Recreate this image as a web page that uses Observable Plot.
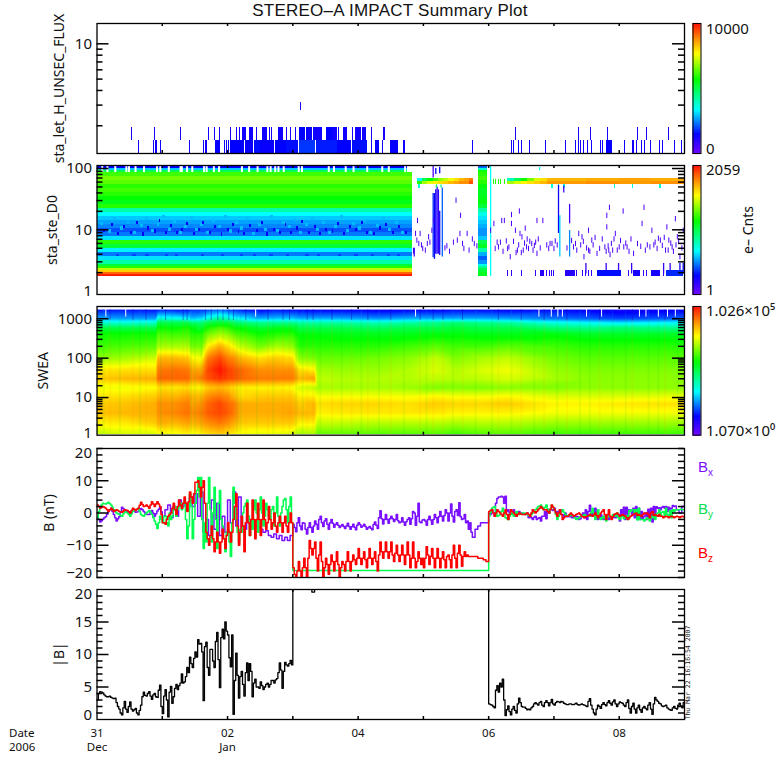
<!DOCTYPE html>
<html>
<head>
<meta charset="utf-8">
<script src="https://cdn.jsdelivr.net/npm/d3@7"></script>
<script src="https://cdn.jsdelivr.net/npm/@observablehq/plot@0.6"></script>
<style>
  html, body { margin: 0; background: #fff; }
  #page { position: relative; width: 780px; height: 780px; overflow: hidden; font-family: "Liberation Sans", sans-serif; color: #111; }
  #page svg { position: absolute; background: transparent; max-width: none; overflow: visible !important; }
  .note { position: absolute; white-space: nowrap; }
  .note sub { font-size: 10px; }
</style>
</head>
<body>
<div id="page"></div>
<script>
// days since 31 Dec on every x axis
const dayTicks = [1, 2, 3, 4, 5, 6, 7, 8];
const dateLabels = [[0, "31", "Dec"], [2, "02", "Jan"], [4, "04", ""], [6, "06", ""], [8, "08", ""]];

// colour level is the position along the colour bar, 0 to 100
const rampLevels = [0, 15, 34, 57, 77, 88, 100];
const rampColors = ["#7000ff", "#0000ff", "#00ffff", "#00ff00", "#ffff00", "#ff9000", "#ff1000"];

const logMinor = [2, 3, 4, 5, 6, 7, 8, 9, 20, 30, 40, 50, 60, 70, 80, 90, 200, 300, 400, 500, 600, 700, 800, 900];

// sta_let_H_UNSEC_FLUX: start day, end day, level
const fluxLowSpans = [[.64,.652,13],[.87,.882,13],[.895,.907,13],[.915,.927,13],[.97,.985,13],[1.41,1.435,13],[1.635,1.647,13],[1.66,1.672,13],[1.685,1.697,13],[1.81,1.89,14],[1.915,1.927,13],[1.95,1.962,13],[1.985,1.997,13],[2.02,2.032,13],[2.05,2.26,15],[2.27,2.4,14],[2.41,2.5,16],[2.51,2.72,14],[2.73,2.9,15],[2.91,3.09,16],[3.1,3.35,19],[3.36,3.68,17],[3.69,3.9,15],[3.91,4.15,16],[4.17,4.182,13],[4.21,4.222,13],[4.27,4.33,14],[4.37,4.382,13],[4.5,4.62,14],[4.66,4.672,13],[4.7,4.72,13],[5.75,5.762,13],[6.35,6.362,13],[6.38,6.392,13],[6.46,6.472,13],[6.51,6.522,13],[6.63,6.642,13],[6.87,6.882,13],[7.14,7.152,13],[7.18,7.192,13],[7.33,7.342,13],[7.38,7.392,13],[7.41,7.422,13],[7.45,7.462,13],[7.51,7.535,13],[7.58,7.592,13],[7.71,7.722,13],[7.74,7.752,13],[7.8,7.89,14],[7.92,7.932,13],[8.08,8.092,13],[8.2,8.23,13],[8.27,8.282,13],[8.34,8.352,13],[8.39,8.402,13],[8.48,8.492,13],[8.62,8.632,13],[8.66,8.672,13],[8.85,8.862,13],[8.95,8.975,13]];
const fluxHighSpans = [[.53,.542,12],[.885,.897,12],[1.28,1.292,12],[1.71,1.722,12],[1.8,1.812,12],[1.875,1.887,12],[2.045,2.057,12],[2.135,2.147,12],[2.185,2.197,12],[2.23,2.29,13],[2.335,2.4,13],[2.45,2.462,12],[2.54,2.605,13],[2.645,2.657,12],[2.68,2.692,12],[2.785,2.86,13],[2.91,2.922,12],[2.96,2.972,12],[3.04,3.052,12],[3.1,3.2,15],[3.215,3.3,14],[3.31,3.45,13],[3.515,3.6,15],[3.61,3.68,13],[3.7,3.712,12],[3.74,3.752,12],[3.78,3.83,13],[3.92,3.932,12],[3.96,3.972,12],[3.98,4.05,13],[4.06,4.135,13],[4.21,4.222,12],[4.39,4.42,12],[6.41,6.422,12],[7.38,7.392,12],[7.56,7.572,12],[7.8,7.812,12],[7.82,7.832,12],[8.28,8.292,12],[8.42,8.432,12],[8.76,8.772,12]];
const fluxPeaks = [[3.12, 2.7, 3.16], [3.94, 3.16, 3.6]];

// sta_ste_D0 energy rows and their colour levels
const steEdges = [86,74,63.7,54.8,47.2,40.6,34.9,30.1,25.9,22.2,19.2,16.5,14.2,12.2,10.5,9.04,7.78,6.69,5.75,4.95,4.26,3.67,3.16,2.72,2.52,2.34,2.17,2.01,1.87,1.73];
const steLevels = [62,66,64,60,62,60,57,55,60,42,34,30,27,25,21,24,32,60,52,33,24,32,42,52,60,72,82,92,99];
const steBlockLevels = [60,62,60,56,54,54,55,56,52,42,36,32,30,28,26,26,30,50,54,42,28,22,26,36,44,50,52,54,54];
const steTopStrip = [[108,100,15],[100,92.7,30],[92.7,86,50]];
const steGaps = [.08,.16,.28,.45,.49,.59,.72,.92,.97,1.1,1.28,1.3,1.38,1.46,1.64,1.68,1.79,1.87,2.22,2.33,2.46,2.61,2.66,2.73,2.78,2.86,3.09,3.14,3.55,3.63,3.81,3.93,4.14,4.37,4.47,4.72,4.77];
const steSpeckleDays = [.1,.22,.31,.4,.52,.6,.7,.78,.88,.95,1.05,1.13,1.22,1.3,1.37,1.48,1.55,1.62,1.73,1.8,1.9,2,2.07,2.16,2.25,2.33,2.44,2.52,2.6,2.71,2.8,2.88,2.97,3.06,3.14,3.24,3.33,3.41,3.5,3.6,3.68,3.78,3.87,3.96,4.05,4.13,4.24,4.33,4.42,4.53,4.62,4.72];
const steSpeckleEnergy = [9.5,12,8.6,11,9,13,8.4,10.5,9.4,14,8.8,11.5,9,10,12.5,8.6,9.8,13,9,11,8.4,10,12,9.2,8.6,11.6,9.6,13,8.4,10,9,12,8.8,10.5,13.5,9,11,8.6,10,9.4,12.5,8.6,11,9.8,13,9,8.5,10.5,12,9,11,8.8];
const steMottleDays = [.05,.17,.26,.36,.46,.56,.66,.74,.83,.92,1,1.09,1.17,1.26,1.34,1.43,1.51,1.59,1.68,1.77,1.86,1.95,2.03,2.12,2.2,2.29,2.38,2.48,2.56,2.66,2.75,2.84,2.93,3.02,3.1,3.19,3.28,3.37,3.46,3.55,3.64,3.73,3.82,3.91,4,4.09,4.18,4.28,4.37,4.47,4.57,4.67];
const steMottleEnergy = [12.5,9.4,15,10.5,13,8.8,11.5,15,9.5,12,16,10,13.5,8.8,11,15.5,10,12,9,14,11,16,9.4,13,10.5,15,8.6,12,10,16,9.5,13,11,14.5,9,12,15,10,13,8.8,11,16,9.5,12.5,10.5,14,9,11.5,15,10,13,8.8];
const steRowDashes = [.3,.55,.75,1.05,1.2,1.6,1.9,2.2,2.4,2.65,2.9,3.2,3.38,3.7,3.95,4.2,4.45,4.6];

// transition band near 60 eV: left edge of each piece, then levels of its upper and lower row
const bandADays = [4.91,4.99,5.07,5.15,5.23,5.31,5.39,5.47,5.55,5.63,5.71,5.76];
const bandAUpper = [34,50,57,62,68,72,76,80,84,86,90];
const bandALower = [60,70,75,78,80,82,84,86,88,88,94];
const bandBDays = [6.29,6.4,6.5,6.6,6.7,6.8,6.9,7.5,8,8.5,9];
const bandBUpper = [40,50,58,66,74,80,84,85,86,85];
const bandBLower = [70,74,78,80,82,84,87,88,87,88];
const bandSingles = [6.08,6.11,6.15,6.18,6.22,6.25];
const bandDrips = [4.93,6.97,7.07,7.15,7.92,8.2,8.62];

// vertical streaks: day, upper energy, lower energy, level
const steStreaks = [[5.15,39,3.5,18],[5.17,39,3.3,14],[5.19,45,4,12],[5.21,50,4,10],[5.23,45,4,8],[5.25,20,3.8,12],[5.29,48,3.6,22],[5.27,54,48,45],[5.2,54,48,50],
  [5.15,112,70,5],[5.19,100,80,14],[5.25,105,82,14],[4.85,5,4,8],[4.86,5,3.6,6],[6.03,112,1.73,34],[7.07,53,8.7,14],[7.09,17,3.6,30],[7.15,52,40,6],[7.24,26,12.5,6],[7.24,9.7,3.6,25],[6.78,104,92,34],
  [7.49,2.82,1.9,8],[7.8,2.82,1.9,8],[7.99,2.82,1.9,8],[8.19,2.82,1.9,8],[8.68,2.82,1.9,8],[8.78,2.82,1.9,8],[8.93,2.82,1.9,14],[8.98,2.82,1.9,14]];

// isolated counts: day, energy
const steDots = [[5.5,30],[5.57,17],[4.91,14],[4.95,8.6],[4.88,8.6],[4.9,6.7],[4.93,5.9],[4.99,4.9],[5.06,5.9],[5.08,7.6],[5.13,9.7],[5.16,14],[5.36,5.4],[5.46,6.2],[5.52,6.7],[5.56,8.6],[5.62,4.9],[5.67,8.6],[5.75,7],[5.82,5.4],[6.13,6.2],[6.08,12.5],[6.03,9.7],[6.2,14],[6.24,14],[6.35,17.5],[6.47,20],[6.35,12.5],[6.41,9.7],[6.48,8.6],[6.56,10.5],[6.51,7.6],[6.59,7],[6.18,6.2],[6.1,4.9],[6.29,4.9],[6.33,3.6],[6.44,4.6],[6.53,4.6],[6.61,4.9],[6.66,5.9],[6.72,6.2],[6.74,4.06],[6.74,14],[6.83,14],[6.89,5.6],[6.94,5.9],[7,4.9],[7.05,5.6],[7.3,5.2],[7.33,5.9],[7.38,8.6],[7.43,7.6],[7.53,9.7],[7.46,3.6],[7.53,4.6],[7.58,6.7],[7.66,4.06],[7.74,7],[7.81,11],[7.81,17],[7.85,23],[7.92,7],[7.94,8.6],[7.97,4.6],[8.07,5.2],[8.06,20],[8.12,5.2],[8.22,4.06],[8.38,23],[8.35,12.5],[8.43,5.6],[8.5,9.7],[8.53,5.6],[8.58,4.9],[8.63,6.7],[8.71,4.6],[8.73,11],[8.76,6.7],[8.81,5.2],[8.86,15],[8.89,7.6],[8.93,3.6],[8.98,9.7],[7.84,4.6],[7.86,3.9],
  [4.97,5.6],[5.03,4.6],[5.1,6.2],[5.33,5],[5.4,4.4],[5.6,5.9],[5.7,4.6],[5.78,5.9],[6.15,5.2],[6.22,4.4],[6.27,6.5],[6.31,5.2],[6.38,6.4],[6.42,4.2],[6.46,5.6],[6.5,4.2],[6.55,6],[6.58,5.2],[6.63,6.4],[6.68,4.6],[6.7,5.5],[6.76,7],[6.79,5],[6.92,4.9],[6.97,5.9],[7.02,6.5],[7.2,5],[7.27,6.6],[7.35,4.6],[7.41,5.6],[7.45,6.4],[7.5,5],[7.55,4.4],[7.6,5.6],[7.63,7.4],[7.7,4.9],[7.78,5.2],[7.8,4.4],[7.83,5.4],[7.88,5.9],[7.9,4.6],[8,5.2],[8.02,6.6],[8.1,6],[8.15,4.4],[8.18,7],[8.28,5.9],[8.33,5.3],[8.4,4.6],[8.47,5.2],[8.55,6.2],[8.6,7.2],[8.66,5.5],[8.69,7.4],[8.75,4.6],[8.79,6],[8.83,4.4],[8.87,5.6],[8.91,6.5],[8.96,5]];

// bottom row of the quiet interval
const steFloorSpans = [[6.29,6.302,8],[6.35,6.362,8],[6.5,6.512,8],[6.68,6.692,8],[6.72,6.732,8],[6.79,6.85,10],[6.89,6.902,8],[6.93,6.942,8],[6.97,6.982,8],[7,7.012,8],[7.18,7.33,10],[7.35,7.362,8],[7.4,7.412,8],[7.44,7.452,8],[7.48,7.492,8],[7.53,7.542,8],[7.58,7.592,8],[7.63,7.642,8],[7.67,8.04,16],[8.09,8.102,8],[8.14,8.152,8],[8.22,8.32,12],[8.37,8.382,8],[8.42,8.432,8],[8.49,8.63,12],[8.68,8.692,8],[8.73,8.99,18]];

// SWEA: energy rows, time columns, one list of levels per column
const sweaEnergy = [1710,1000,800,600,400,200,100,50,30,18,11,7,4,2.2,1.2];
const sweaDays = [0,.45,.9,.93,1.2,1.4,1.45,1.6,1.7,1.88,2,2.1,2.2,2.5,2.75,3,3.1,3.33,3.37,3.7,4.3,4.8,5.2,5.5,5.9,6.3,7,7.5,8,9];
const sweaColumns = [
  [16,28,38,50,58,62,68,79,82,76,79,82,83,78,72],
  [16,27,37,50,58,63,70,80,84,76,80,83,84,79,74],
  [16,27,38,50,58,64,73,80,85,77,82,85,85,82,74],
  [17,38,50,57,63,70,84,90,92,80,84,88,88,85,76],
  [16,36,50,56,62,70,84,91,92,79,84,88,89,84,76],
  [16,34,50,58,62,70,82,90,92,80,86,90,91,86,78],
  [18,30,46,56,60,66,78,86,88,78,84,86,88,84,76],
  [18,32,46,52,60,66,76,86,90,78,84,88,90,86,78],
  [20,38,50,58,66,78,90,95,94,82,88,92,93,88,80],
  [22,44,52,62,70,85,95,100,97,84,90,95,95,90,82],
  [20,40,52,60,68,80,90,96,95,82,88,92,93,88,80],
  [18,36,48,56,64,76,88,94,94,80,84,90,90,85,78],
  [16,34,46,56,62,72,84,92,92,78,80,85,85,82,76],
  [14,28,44,52,58,66,80,88,90,78,82,85,85,82,75],
  [16,30,44,54,60,70,82,88,90,78,82,85,85,82,75],
  [15,30,44,54,60,68,80,88,90,77,82,85,86,82,74],
  [14,28,42,50,56,60,68,80,84,74,78,82,84,78,70],
  [14,28,42,50,56,60,66,78,86,72,78,84,84,78,70],
  [14,28,42,50,56,60,65,70,72,70,76,80,78,72,65],
  [14,28,42,50,55,60,65,69,71,70,76,81,79,72,65],
  [13,26,40,48,55,60,66,69,71,70,76,81,79,71,64],
  [14,28,42,50,55,62,68,71,71,69,76,80,79,71,64],
  [14,28,44,50,56,64,72,74,72,67,77,82,79,71,64],
  [15,28,46,52,56,62,67,71,71,67,76,81,78,70,62],
  [15,28,44,50,55,62,70,74,72,67,76,81,78,71,64],
  [14,27,42,50,55,64,72,76,74,68,77,82,78,71,64],
  [15,24,36,46,56,62,66,69,70,67,74,78,76,69,62],
  [14,22,34,44,54,60,64,67,68,68,74,78,76,69,62],
  [12,20,32,46,54,60,64,67,68,68,74,79,76,69,62],
  [14,22,34,44,54,60,64,67,68,68,75,80,76,69,62]
];
const sweaGaps = [.135,.44,2.43,4.88,6.77,6.96,7.06,7.13,7.5,7.73,8.31,8.41,8.6,8.74,8.86];
const sweaWarm = [.2,.55,.75,1.05,1.32,1.38,1.66,1.75,1.85,1.93,2.02,2.09,2.28,2.62,2.85,2.95,3.22,3.31,3.6,3.9,4.15,4.5,4.95,5.15,5.3,5.6,6.15,6.5,6.85,7.2,7.7,8.2,8.7];
const sweaCool = [.1,.35,.66,.98,1.15,1.44,1.5,1.6,2.14,2.2,2.45,2.7,3.05,3.15,3.42,3.75,4.05,4.32,4.7,5.05,5.45,5.8,6.05,6.35,6.7,7.05,7.4,7.55,7.9,8.1,8.45,8.6,8.9];

// magnetic field, one value per hour
const bx = [-1.5,-2.8,-1.9,-1.2,.5,1.5,-.5,-2.5,-1.2,1.8,.8,.5,-.3,1,.2,.5,1.4,.5,-.5,-.5,.8,-1,.6,1.8,
  -1,1,2.5,-1.5,2,-1,4,2,3,1,5,2,6,-1,6.5,-6,-2,-7,4,-5,3,-7,-1,-6,
  4,-3,6.5,-4,5,-5,-5,-1,-3.5,-2.5,-4,-4.5,-5,-6,-5.5,-7,-7.5,-6.5,-8,-7,-8.5,-7.5,-8.5,-7,
  -3.5,-5.8,-1.5,-5.2,-3.2,-6.5,-3,-6,-2.5,-5,-1,-4.2,-1.8,-5,-2,-4.4,-3,-4.5,-3.6,-4.8,-3.2,-5,-3.5,-5.2,
  -3,-4.4,-3.5,-5,-4.2,-5.2,-2.8,-4.8,.7,-3.4,-.5,-3.2,-1,-2.6,-.5,-3,-1.5,-3.8,-2,-3.5,.5,-3.8,3,-3,
  -2,-3.8,-1,-3.5,-.5,-3,.5,-2.5,1,-2.5,2.8,-2.8,1,3.2,-2,-.5,-2.5,-3,-7.5,-5,-4,-3,-3,-3,
  0,1,-1,4.5,5,5,5.2,1,0,1,-1,.5,
  0,-.5,0,-1,-2,-1,-1.6,-2.5,-1,-1.8,0,1,1.5,.5,1,-.5,0,-1,-1,-1.5,-1,-2,-1,-1.5,-2,2.4,0,1.5,-2,-.5,-2,-1,-2,-1.5,-.5,-1,-2.5,-1,-2,-1,.5,1.5,2,1.5,.5,-1,-2,-1.5,-2.8,-1,1.5,1,2,2,1.8,1.5,2,1,0,2,2.5];
const by = [-1.5,2,3,2.8,3.3,2.5,1,0,-.5,-1,.5,0,-1,.5,1,1.5,-.5,-1,0,.8,-.5,-2.5,-4.8,-1,
  -3,-1,-4,-2,1,-1,2,1,4,-8,6,-8,3,11,11,-11,-9,11,-9,8,-11,7,-4,-12,
  -5,-13.5,8,-2,-9,-6,2,4,-7,-5,4,-6,5,-4,3,-1,1,-4,5,-4,2,4.5,-3,5,
  -17.8,-17.8,-17.8,-17.8,-17.8,-17.8,-17.8,-17.8,-17.8,-17.8,-17.8,-17.8,-17.8,-17.8,-17.8,-17.8,-17.8,-17.8,-17.8,-17.8,-17.8,-17.8,-17.8,-17.8,
  -17.8,-17.8,-17.8,-17.8,-17.8,-17.8,-17.8,-17.8,-17.8,-17.8,-17.8,-17.8,-17.8,-17.8,-17.8,-17.8,-17.8,-17.8,-17.8,-17.8,-17.8,-17.8,-17.8,-17.8,
  -17.8,-17.8,-17.8,-17.8,-17.8,-17.8,-17.8,-17.8,-17.8,-17.8,-17.8,-17.8,-17.8,-17.8,-17.8,-17.8,-17.8,-17.8,-17.8,-17.8,-17.8,-17.8,-17.8,-17.8,
  -1,1.5,2,-1,-.5,1.5,-1.5,-2,0,-1,.5,-.5,0,0,-.5,-1,0,1,2,2.5,1,2.5,0,2.4,1,-2,0,1,-.5,-1,-.5,-1,-2,-1.5,-1,-.5,-1,-1,1.5,-2,1,-2,-1,-2.5,-1,-1.5,-1,0,-2,-1,-1.5,-2,.5,1,1,1.5,-2,-2.5,-1.5,-2.5,-1.5,-2,0,-1,.5,1.5,-1,-1.5,.5,1,1,1,1];
const bz = [2.5,1.5,2,1.5,.5,1.5,.5,1,.5,.2,1,.8,0,1.5,.8,1.5,3.3,2,2.5,1.5,3.5,2,3.5,2,
  -3,-3.5,-1,0,3,-.5,4,1.5,5,.5,6.5,3,9.5,10,5,10,-6,-10,-4,-12,-6,-12.5,-5,-11,
  -3,-9,-2,6,-10,-1,-12,3,-7,4,-8,3,-7,4,-5,2,-5,0,-6,-1,-6,-1,-6,0,
  -17,-20,-15,-21,-14,-20,-8.5,-13,-9,-18,-9,-20,-14,-19,-13,-18,-12,-20,-15,-18,-12,-18,-13,-16,
  -11,-16,-12,-17,-11,-16,-12,-18,-9,-14,-9,-14,-9,-15,-10,-15,-10,-16,-9,-17,-9,-17,-12,-16,
  -17,-10.5,-16,-11,-17,-11,-17,-12,-17,-13,-17,-10,-17,-10,-16.5,-12,-13,-13.5,-13.5,-13.5,-14,-14,-14.5,-15,
  .5,1,-1,1,0,-1,1,-2,1,0,-1,0,-.5,-.5,0,-1,1,0,1,2,1,1,0,2.5,1,-1,1,-2,-1,-1,0,-1,-.5,0,-1,-1.5,-1,-.5,-1,0,-1.5,0,1,-2,1,-2,-.5,0,-1,-.5,-1,-2,-1,-.5,0,-.5,-1,0,0,-1.5,.5,-.5,-1,-1,-1.5,-1,-1.5,-1,-1.5,-1,-1.5,-1,-1.5];
const bMag = [3,4.3,4.1,3.6,3.5,3.4,3.2,2.6,1.6,.7,2.8,1.1,2.7,1.3,1.7,.7,2.2,4.2,3.6,4.3,3.1,4,3.4,5.3,
  .9,4.6,.4,5.1,3.5,5.4,5.2,7,5.8,8,9.6,8,10.4,12.3,11.7,2.9,11.9,6.8,10.8,8,13.4,4.9,13.9,15,
  13,8.1,.8,10.2,3.3,7.4,3.6,8.7,8.6,3.5,6.2,5,5.8,4.6,5.4,5,6,5.6,6.3,8.7,4.8,8.8,8.2,9.1,
  25,25,25,25,25,20.3,20.5,19.6,20.2,25,25,25,25,25,25,25,25,25,25,25,25,25,25,25,
  25,25,25,25,20.1,25,25,25,25,25,25,25,25,25,25,25,25,25,25,25,25,25,25,25,
  25,25,25,25,25,25,25,25,25,25,25,25,25,25,25,25,25,25,25,25,25,25,25,25,
  2.4,2.2,1.8,5.2,5.6,6.2,.6,2.1,.7,2,1,3.3,2,1.9,1.5,1.5,2,2.6,2.2,2.8,2,2.9,2.1,3.1,
  2.2,2.8,2.6,2.7,2.4,2.3,2.4,2.3,2.5,2.2,2.4,2.2,2,3.2,1.6,.7,2.2,1.7,2.6,2.1,2.9,2.2,3,2,
  2.7,2.5,2,3,1,2.5,1,2.2,1.1,2,1.5,2.6,.8,3.4,2.8,2.4,2,2.2,1.6,1.4,2,1.6,2.5,1.8,3];

// half-hour samples between the hourly ones, each run from its start day
const bxFine = [
  {start: 0, values: [-2,-2.4,-1.5,-.4,1,.5,-1.5,-1.8,.3,1.3,.6,.1,.3,.6,.3,1,1,0,-.5,.2,-.1,-.2,1.2,.4]},
  {start: 3, values: [-4.5,-3,-4,-3,-5,-4.5,-4.5,-4,-3.5,-2,-3,-2.5,-3.5,-3,-3.2,-3.6,-3.8,-4,-4.2,-4,-4.2,-4.3,-4.4,-3.8,-3.6,-4,-4.2,-4.6,-4.7,-3.6,-3.8,-1.5,-1.8,-2,-2,-1.8,-1.8,-2,-2.4,-2.8,-2.8,-2.7,-1.5,-1.8,0,-1,-2.8,-2.2,-2.5,-2,-2.2,-2,-1.5,-1.2,-1,-.8,0,0,-1,.5,-.8,-1.2,-1.8,-3,-5,-6]},
  {start: 6, values: [-.5,0,3,5,5.2,3,.5,0,0,0,.2,0,-.3,-.5,-1.5,-1.5,-1.3,-2,-1.4,-1,.5,1.2,1,.8,.2,.2,-.5,-1,-1.2,-1.2,-1.5,-1.5,-1.2,-1.8,0,1,.5,-1,-1,-1.5,-1.5,-1,-1,-.8,-1.5,-1.5,-1.5,-.5,1,1.8,1.8,1,-.5,-1.5,-1.8,-2,-1.8,0,1.2,1.5,2,1.9,1.6,1.8,1.5,.5,1,2.3,2.2]}
];
const byFine = [
  {start: 0, values: [.5,2.5,2.9,3,2.9,1.8,.5,-.2,-.8,-.2,.2,-.5,-.2,.8,1.2,.5,-.8,-.5,.4,.2,-1.5,-3.5,-3,-2]},
  {start: 1, values: [-1,-3,0,-1,2,1,3,3,-2,-4,2,-2,7,5,-2,-3,3,1,0,-2,3,-2,-8,-6,-9,-3,3,-6,-5,0,3,-1,-2,1,0,1,0,-1,1,-2,2,0,-1,0,4,1,2,-3]},
  {start: 6, values: [.2,1.8,.5,-.8,.5,0,-1.8,-1,-.5,-.2,0,-.2,0,-.2,-.8,-.5,.5,1.5,2.2,1.8,1.8,1.2,1.2,1.7,-.5,-1,.5,.2,-.8,-.8,-.8,-1.5,-1.8,-1.2,-.8,-.8,-1,.2,-.2,-.5,-1.5,-1.5,-1.8,-1.2,-1.2,-.5,-1,-1.5,-1.2,-1.8,-.8,.8,1,-.2,-2.2,-2,-2,-2,-1.8,-1,-.5,-.2,1,.2,-1.2,-.5,.8,1,1,1,1.2,1]}
];
const bzFine = [
  {start: 0, values: [2,1.8,1.8,1,1,1,.8,.8,.4,.6,.9,.4,.8,1.2,1.2,2.4,2.6,2.2,2,2.5,2.8,2.8,2.8,-.5]},
  {start: 1, values: [-3,-2,-.5,1.5,1,2,2.5,3,3,3.5,5,6,9.5,8,8,3,-8,-7,-8,-9,-9,-9,-8,-7,-6,-6,2,-4,-6,-4,-3,-3,-2,-2,-2,-2,-2,-2,-3,-2,-3,-4,-3,-3,-3,-4,-3,-3,
    -19,-18,-18,-17,-17,-14,-11,-11,-14,-13,-15,-17,-16,-16,-15,-15,-16,-17,-16,-15,-15,-15,-14.5,-14,-14,-14,-14.5,-14,-14,-14,-15,-13,-12,-12,-12,-12,-13,-12.5,-13,-13,-13,-13,-13,-14,-14,-15,-14,-14,-14,-13,-13.5,-14,-14,-14,-14,-14.5,-13.5,-14.5,-13,-14,-12.5,-13,-13.5,-13.5,-13.5,-13.5]},
  {start: 6, values: [.8,0,0,.5,-.5,0,-.5,-.5,.5,-.5,-.5,-.2,-.5,-.2,-.5,0,.5,.5,1.5,1.5,1,.5,1.2,1.8,0,0,-.5,-1.5,-1,-.5,-.5,-.8,-.2,-.5,-1.2,-1.2,-.8,-.8,-.5,-.8,-.8,.5,-.5,-.5,-1,-1.2,-.2,-.5,-.8,-.8,-1.5,-1.5,-.8,-.2,-.8,-.8,-.5,-.2,-.5,0,-.8,-.8,-.5,-1,-1.2,-1.2,-1.2,-1.2,-1.2,-1.2,-1.2,-1.2]}
];
const bMagFine = [
  {start: 0, values: [4,4.2,3.8,3.5,3.6,3.3,3.3,2,1,1.8,1.6,2,1.6,1.5,1,1.4,3.5,3.7,4,3.6,3.8,3.5,4.5,2]},
  {start: 1, values: [3.6,3,4.2,2.5,4.8,4.6,5.6,5.6,6.6,7.2,8.6,9.4,9.6,11.6,10.4,11.2,8,10.8,9,12,9.2,12.6,12.4,13.6,9.5,13,6,6.8,6.6,5.4,7.2,6,7.4,5.6,5,4.8,5.2,5,5.6,5.4,6,6.1,7.2,7.6,7.4,8.4,8.6,8.4]},
  {start: 6, values: [2.3,2,4.5,4.2,5,3,1.5,1.2,1.6,1.4,2.4,2.6,1.9,1.7,1.6,1.8,2.4,2.4,2.6,2.2,2.6,2.6,2.6,2.4,2.6,2.7,2.8,2.5,2.3,2.4,2.3,2.4,2.3,2.3,2.3,2.1,2.8,2.2,1,1.6,2,2.3,2.3,2.6,2.5,2.7,2.4,2.4,2.6,2.2,2.6,1.7,2,1.6,1.8,1.5,1.8,1.7,2.2,1.6,2.4,3,2.5,2.1,2.1,1.8,1.5,1.8,1.7,2.2,2.1,2.6]}
];

const page = document.getElementById("page");
const levelScale = {type: "linear", domain: rampLevels, range: rampColors, clamp: true};
const sharp = {shapeRendering: "crispEdges"};

function addNote(html, left, top, css) {
  const note = document.createElement("div");
  note.className = "note";
  note.innerHTML = html;
  note.style.cssText = `left:${left}px;top:${top}px;${css || ""}`;
  page.append(note);
}

// ticks point into the frame on all four sides, as in the original
// bottomEnd and topEnd: [frame edge, tip of the day tick] in y units
function frameMarks(major, minor, bottomEnd, topEnd) {
  const tick = (values, days) => [
    Plot.ruleY(values, {y: d => d, x1: () => 0, x2: () => days, stroke: "#000", strokeWidth: 1.5}),
    Plot.ruleY(values, {y: d => d, x1: () => 9 - days, x2: () => 9, stroke: "#000", strokeWidth: 1.5})
  ];
  const dayTick = ([edge, tip]) => Plot.ruleX(dayTicks, {x: d => d, y1: () => edge, y2: () => tip, stroke: "#000", strokeWidth: 1.5});
  return [
    ...tick(major, 0.184),
    ...tick(minor, 0.092),
    dayTick(bottomEnd),
    dayTick(topEnd),
    Plot.frame({stroke: "#000", strokeWidth: 1.3})
  ];
}

function yLabels(labels) {
  return Plot.text(labels, {x: () => 0, y: d => d[0], text: d => d[1], dx: -5, textAnchor: "end", fontSize: 15, fill: "#111"});
}

function yTitle(title, dx) {
  return Plot.text([title], {frameAnchor: "left", textAnchor: "middle", dx, rotate: -90, fontSize: 14, fill: "#111"});
}

function addPanel(top, height, y, marks, extraBottom = 0) {
  const chart = Plot.plot({
    width: 780,
    height: height + 20 + extraBottom,
    marginLeft: 96.5,
    marginRight: 96,
    marginTop: 10,
    marginBottom: 10 + extraBottom,
    x: {domain: [0, 9], axis: null},
    y: {...y, axis: null},
    color: levelScale,
    marks
  });
  chart.style.top = `${top - 10}px`;
  chart.style.left = "0px";
  page.append(chart);
}

function addColorBar(top, height, labels, title) {
  const bar = Plot.plot({
    width: 88,
    height: height + 20,
    marginLeft: 0.5,
    marginRight: 79.5,
    marginTop: 10,
    marginBottom: 10,
    x: {domain: [0, 1], axis: null},
    y: {domain: [0, 100], axis: null},
    color: levelScale,
    marks: [
      Plot.ruleY(d3.range(0, 100.5, 0.5), {y: d => d, stroke: d => d, strokeWidth: 1.2}),
      Plot.frame({stroke: "#000"}),
      Plot.text(labels, {x: () => 1, y: d => d[0], text: d => d[1], dx: 5, textAnchor: "start", fontSize: 15, fill: "#111"}),
      title ? Plot.text([title], {frameAnchor: "left", textAnchor: "middle", dx: 56, rotate: -90, fontSize: 14, fill: "#111"}) : null
    ]
  });
  bar.style.top = `${top - 10}px`;
  bar.style.left = "692px";
  page.append(bar);
}

addNote("STEREO&#8211;A IMPACT Summary Plot", 390, 1, "transform:translateX(-50%);font-size:17px;letter-spacing:.25px;");

// flux
const fluxRect = (spans, lo, hi) => Plot.rect(spans, {x1: d => d[0], x2: d => d[1], y1: () => lo, y2: () => hi, fill: d => d[2], ...sharp});
addPanel(23, 130, {type: "log", domain: [1.16, 14.9]}, [
  fluxRect(fluxLowSpans, 1.16, 1.5),
  fluxRect(fluxHighSpans, 1.5, 1.94),
  Plot.rect(fluxPeaks, {x1: d => d[0], x2: d => d[0] + 0.012, y1: d => d[1], y2: d => d[2], fill: () => 12, ...sharp}),
  ...frameMarks([10], [2, 3, 4, 5, 6, 7, 8, 9], [1.16, 1.23], [14.9, 14.05]),
  yLabels([[10, "10"]]),
  yTitle("sta_let_H_UNSEC_FLUX", -37)
]);
addColorBar(23, 130, [[96, "10000"], [3, "0"]]);

// ste
const steRows = steLevels.map((level, i) => ({hi: steEdges[i], lo: steEdges[i + 1], level, block: steBlockLevels[i]}));
const bandPieces = (days, levels, hi, lo) => levels.map((level, i) => ({x1: days[i], x2: days[i + 1], hi, lo, level}));
const spotRect = (days, energies, width, level) => Plot.rect(days.map((d, i) => [d, energies[i]]), {x1: d => d[0], x2: d => d[0] + width, y1: d => d[1] * 0.94, y2: d => d[1] * 1.06, fill: () => level, ...sharp});
addPanel(165, 129, {type: "log", domain: [0.88, 112]}, [
  Plot.rect(steTopStrip, {x1: () => 0, x2: () => 4.76, y1: d => d[0], y2: d => d[1], fill: d => d[2], ...sharp}),
  Plot.ruleX(steGaps, {x: d => d, y1: () => 86, y2: () => 110, stroke: "#fff", strokeWidth: 2}),
  Plot.rect(steRows, {x1: () => 0, x2: () => 4.83, y1: "lo", y2: "hi", fill: "level", ...sharp}),
  spotRect(steMottleDays, steMottleEnergy, 0.045, 29),
  spotRect(steSpeckleDays, steSpeckleEnergy, 0.03, 15),
  Plot.rect(steRowDashes, {x1: d => d, x2: d => d + 0.05, y1: () => 3.67, y2: () => 3.95, fill: () => 20, ...sharp}),
  Plot.rect(steRows, {x1: () => 5.84, x2: () => 5.98, y1: "lo", y2: "hi", fill: "block", ...sharp}),
  Plot.rect(steTopStrip, {x1: () => 5.84, x2: () => 5.98, y1: d => d[0], y2: d => d[1], fill: d => d[2] + 8, ...sharp}),
  Plot.rect(bandPieces(bandADays, bandAUpper, 68, 61), {x1: "x1", x2: "x2", y1: "lo", y2: "hi", fill: "level", ...sharp}),
  Plot.rect(bandPieces(bandADays, bandALower, 61, 54.8), {x1: "x1", x2: "x2", y1: "lo", y2: "hi", fill: "level", ...sharp}),
  Plot.rect(bandPieces(bandBDays, bandBUpper, 68, 61), {x1: "x1", x2: "x2", y1: "lo", y2: "hi", fill: "level", ...sharp}),
  Plot.rect(bandPieces(bandBDays, bandBLower, 61, 54.8), {x1: "x1", x2: "x2", y1: "lo", y2: "hi", fill: "level", ...sharp}),
  Plot.rect(bandSingles, {x1: d => d, x2: d => d + 0.012, y1: () => 54.8, y2: () => 66, fill: () => 60, ...sharp}),
  Plot.rect(bandDrips, {x1: d => d, x2: d => d + 0.02, y1: () => 47, y2: () => 54.8, fill: () => 38, ...sharp}),
  Plot.ruleX(steStreaks, {x: d => d[0], y1: d => d[1], y2: d => d[2], stroke: d => d[3], strokeWidth: 1.3}),
  Plot.ruleX(steDots, {x: d => d[0], y1: d => d[1] * 0.9, y2: d => d[1] * 1.1, stroke: () => 5, strokeWidth: 1}),
  Plot.rect(steFloorSpans, {x1: d => d[0], x2: d => d[1], y1: () => 1.73, y2: () => 2.17, fill: d => d[2], ...sharp}),
  ...frameMarks([10, 100], [2, 3, 4, 5, 6, 7, 8, 9, 20, 30, 40, 50, 60, 70, 80, 90], [0.88, 0.986], [112, 100]),
  yLabels([[100, "100"], [10, "10"], [1, "1"]]),
  yTitle("sta_ste_D0", -44)
]);
addColorBar(165, 129, [[96, "2059"], [3, "1"]], "e\u2013 Cnts");

// swea
const sweaCells = sweaDays.flatMap((day, c) => sweaEnergy.map((energy, r) => ({day, energy, level: sweaColumns[c][r]})));
addPanel(306, 128.7, {type: "log", domain: [1.11, 2045]}, [
  Plot.raster(sweaCells, {x: "day", y: "energy", fill: "level", interpolate: "barycentric", x1: 0, x2: 9, y1: 1.18, y2: 1710}),
  Plot.ruleX(sweaWarm, {x: d => d, y1: () => 1.18, y2: () => 1000, stroke: "#ff8000", strokeOpacity: 0.08, strokeWidth: 2}),
  Plot.ruleX(sweaCool, {x: d => d, y1: () => 1.18, y2: () => 1000, stroke: "#00b000", strokeOpacity: 0.08, strokeWidth: 2}),
  Plot.ruleX(sweaWarm, {x: d => d, y1: () => 900, y2: () => 1710, stroke: "#0000c0", strokeOpacity: 0.4}),
  Plot.ruleX(sweaCool, {x: d => d, y1: () => 1000, y2: () => 1710, stroke: "#0080ff", strokeOpacity: 0.3}),
  Plot.ruleX(sweaGaps, {x: d => d, y1: () => 1100, y2: () => 1710, stroke: "#fff", strokeWidth: 1}),
  ...frameMarks([10, 100, 1000], logMinor, [1.11, 1.32], [2045, 1718]),
  yLabels([[1000, "1000"], [100, "100"], [10, "10"], [1.22, "1"]]),
  yTitle("SWEA", -54)
]);
addColorBar(306, 128.7, [[96, "1.026\u00d710\u2075"], [3, "1.070\u00d710\u2070"]]);

// hourly values merged with the half-hour runs, held flat until the next sample
function fieldTrace(hourly, fine) {
  const points = hourly.map((value, i) => [i / 24, value]);
  fine.forEach(run => run.values.forEach((value, i) => points.push([run.start + (i + 0.5) / 24, value])));
  return points.sort((a, b) => a[0] - b[0]);
}
const fieldLine = (points, stroke, strokeWidth = 1.5) => Plot.line(points, {x: d => d[0], y: d => d[1], stroke, strokeWidth, curve: "step-after", clip: true});

// B components
addPanel(448, 129, {domain: [-20, 20]}, [
  fieldLine(fieldTrace(bx, bxFine), "#7a10ff"),
  fieldLine(fieldTrace(by, byFine), "#00ff50"),
  fieldLine(fieldTrace(bz, bzFine), "#ff0000"),
  ...frameMarks([-10, 0, 10], [-20, -18, -16, -14, -12, -8, -6, -4, -2, 2, 4, 6, 8, 12, 14, 16, 18, 20], [-20, -19.07], [20, 19.07]),
  yLabels([[18.7, "20"], [10, "10"], [0, "0"], [-10, "\u221210"], [-18.7, "\u221220"]]),
  yTitle("B (nT)", -47)
]);
addNote("B<sub>x</sub>", 698, 458, "color:#7a10ff;font-size:15px;");
addNote("B<sub>y</sub>", 698, 500, "color:#00e050;font-size:15px;");
addNote("B<sub>z</sub>", 698, 544, "color:#ff0000;font-size:15px;");

// |B|, carries the date axis
const dateText = {lineAnchor: "middle", fontSize: 11.5, fill: "#111"};
addPanel(589, 130, {domain: [0, 20]}, [
  fieldLine(fieldTrace(bMag, bMagFine), "#000", 1.3),
  ...frameMarks([5, 10, 15], [1, 2, 3, 4, 6, 7, 8, 9, 11, 12, 13, 14, 16, 17, 18, 19], [0, 0.46], [20, 19.54]),
  yLabels([[19.3, "20"], [15, "15"], [10, "10"], [5, "5"], [0.7, "0"]]),
  yTitle("|B|", -37),
  Plot.text(dateLabels, {x: d => d[0], frameAnchor: "bottom", dy: 13.5, text: d => d[1], ...dateText}),
  Plot.text(dateLabels.filter(d => d[2]), {x: d => d[0], frameAnchor: "bottom", dy: 27.5, text: d => d[2], ...dateText}),
  Plot.text(["Date"], {frameAnchor: "bottom-left", dx: -88, dy: 13.5, textAnchor: "start", ...dateText}),
  Plot.text(["2006"], {frameAnchor: "bottom-left", dx: -88, dy: 27.5, textAnchor: "start", ...dateText}),
  Plot.text(["Thu Mar 22 16:16:54 2007"], {frameAnchor: "bottom-right", dx: 5, rotate: -90, textAnchor: "start", fontSize: 6.5, fontFamily: "DejaVu Sans Mono", fill: "#111"})
], 60);
</script>
</body>
</html>
